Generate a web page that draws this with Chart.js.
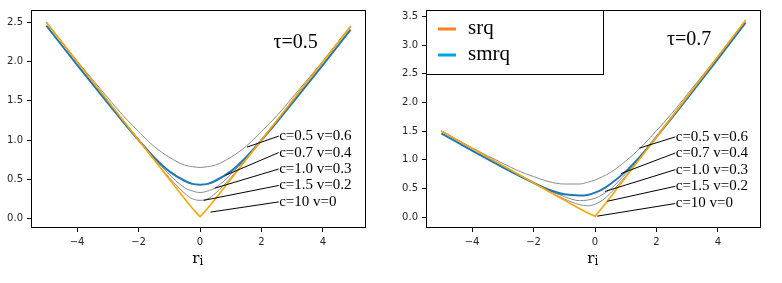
<!DOCTYPE html>
<html><head><meta charset="utf-8">
<script src="https://cdn.jsdelivr.net/npm/chart.js@4/dist/chart.umd.min.js"></script>
<style>
html,body{margin:0;padding:0;background:#fff;}
#wrap{position:relative;width:782px;height:283px;overflow:hidden;background:#fff;}
canvas{position:absolute;top:0;}
</style></head><body>
<div id="wrap">
<canvas id="c1" width="390" height="283" style="left:0px;width:390px;height:283px"></canvas>
<canvas id="c2" width="392" height="283" style="left:390px;width:392px;height:283px"></canvas>
</div>
<script>
// ---- data ----
const rValues = [-5, -4, -3, -2.5, -2, -1.5, -1, -0.5, -0.25, 0, 0.25, 0.5, 1, 1.5, 2, 2.5, 3, 4, 4.9];
const xTicks = [-4, -2, 0, 2, 4];
const yTicksLeft = [0, 0.5, 1, 1.5, 2, 2.5];
const yTicksRight = [0, 0.5, 1, 1.5, 2, 2.5, 3, 3.5];

// tau = 0.5
const srq_t05   = [2.50, 2.00, 1.50, 1.25, 1.00, 0.75, 0.50, 0.25, 0.13, 0.02, 0.13, 0.25, 0.50, 0.75, 1.00, 1.25, 1.50, 2.00, 2.45];
const c05_t05   = [2.51, 2.01, 1.54, 1.31, 1.11, 0.92, 0.78, 0.68, 0.66, 0.65, 0.66, 0.68, 0.78, 0.92, 1.11, 1.31, 1.54, 2.01, 2.46];
const smrq_t05  = [2.46, 1.96, 1.47, 1.23, 1.00, 0.78, 0.60, 0.48, 0.44, 0.43, 0.44, 0.48, 0.60, 0.78, 1.00, 1.23, 1.47, 1.96, 2.41];
const c10_t05   = [2.50, 2.00, 1.50, 1.25, 1.01, 0.77, 0.56, 0.39, 0.35, 0.33, 0.35, 0.39, 0.56, 0.77, 1.01, 1.25, 1.50, 2.00, 2.45];
const c15_t05   = [2.50, 2.00, 1.50, 1.25, 1.00, 0.75, 0.52, 0.32, 0.25, 0.23, 0.25, 0.32, 0.52, 0.75, 1.00, 1.25, 1.50, 2.00, 2.45];

// tau = 0.7
const srq_t07   = [1.50, 1.20, 0.90, 0.75, 0.60, 0.45, 0.30, 0.15, 0.08, 0.02, 0.18, 0.35, 0.70, 1.05, 1.40, 1.75, 2.10, 2.80, 3.43];
const c05_t07   = [1.51, 1.21, 0.94, 0.81, 0.71, 0.62, 0.58, 0.58, 0.61, 0.65, 0.71, 0.78, 0.98, 1.22, 1.51, 1.81, 2.14, 2.81, 3.44];
const smrq_t07  = [1.46, 1.16, 0.87, 0.73, 0.60, 0.48, 0.40, 0.38, 0.39, 0.43, 0.49, 0.58, 0.80, 1.08, 1.40, 1.73, 2.07, 2.76, 3.39];
const c10_t07   = [1.50, 1.20, 0.90, 0.75, 0.61, 0.47, 0.36, 0.29, 0.30, 0.33, 0.40, 0.49, 0.76, 1.07, 1.41, 1.75, 2.10, 2.80, 3.43];
const c15_t07   = [1.50, 1.20, 0.90, 0.75, 0.60, 0.45, 0.32, 0.22, 0.20, 0.23, 0.30, 0.42, 0.72, 1.05, 1.40, 1.75, 2.10, 2.80, 3.43];

const annotLabels = ['c=0.5 v=0.6', 'c=0.7 v=0.4', 'c=1.0 v=0.3', 'c=1.5 v=0.2', 'c=10 v=0'];
// annotation arrow start (on curve) and text anchor, in data units
const annotLeft = [
  {x0:1.53, y0:0.91, x1:2.56, y1:1.05},
  {x0:0.83, y0:0.55, x1:2.56, y1:0.84},
  {x0:0.48, y0:0.385, x1:2.56, y1:0.63},
  {x0:0.12, y0:0.23, x1:2.56, y1:0.42},
  {x0:0.34, y0:0.08, x1:2.56, y1:0.21}
];
const annotRight = [
  {x0:1.44, y0:1.205, x1:2.61, y1:1.40},
  {x0:0.84, y0:0.76, x1:2.61, y1:1.12},
  {x0:0.32, y0:0.45, x1:2.61, y1:0.83},
  {x0:0.40, y0:0.28, x1:2.61, y1:0.54},
  {x0:0.07, y0:0.02, x1:2.61, y1:0.24}
];

function pts(arr){ return rValues.map((r,i)=>({x:r, y:arr[i]})); }

function datasets(srq, c05, smrq, c10, c15){
  const gray = {borderColor:'#8a8a8a', borderWidth:1, pointRadius:0, cubicInterpolationMode:'monotone', fill:false, order:3};
  return [
    Object.assign({label:'srq', data:pts(srq), borderColor:'#ffa500', borderWidth:1.6, pointRadius:0, tension:0, fill:false, order:0}),
    Object.assign({label:'smrq', data:pts(smrq), borderColor:'#1f77b4', borderWidth:2, pointRadius:0, cubicInterpolationMode:'monotone', fill:false, order:1}),
    Object.assign({label:'c05', data:pts(c05)}, gray),
    Object.assign({label:'c10', data:pts(c10)}, gray),
    Object.assign({label:'c15', data:pts(c15)}, gray)
  ];
}

const overlay = {
  id:'overlay',
  afterDraw(chart){
    const o = chart.options.plugins.overlay;
    const {ctx, chartArea:a} = chart;
    const xs = chart.scales.x, ys = chart.scales.y;
    ctx.save();
    // frame
    ctx.strokeStyle = '#000'; ctx.lineWidth = 1;
    ctx.strokeRect(Math.round(a.left)+0.5, Math.round(a.top)+0.5, Math.round(a.right)-Math.round(a.left)-1, Math.round(a.bottom)-Math.round(a.top)-1);
    // annotations
    ctx.font = '15px "Liberation Serif", serif';
    ctx.fillStyle = '#000'; ctx.textBaseline = 'middle'; ctx.textAlign = 'left';
    o.annot.forEach((an, i)=>{
      const px0 = xs.getPixelForValue(an.x0), py0 = ys.getPixelForValue(an.y0);
      const px1 = xs.getPixelForValue(an.x1), py1 = ys.getPixelForValue(an.y1);
      ctx.beginPath(); ctx.moveTo(px0, py0); ctx.lineTo(px1, py1); ctx.stroke();
      ctx.fillText(annotLabels[i], px1 + 0.5, py1);
    });
    // tau label
    ctx.font = '20px "Liberation Serif", serif';
    ctx.textBaseline = 'middle';
    ctx.fillText(o.tauText, xs.getPixelForValue(o.tauPos[0]), ys.getPixelForValue(o.tauPos[1]));
    // x axis title r_i
    const cx = (a.left + a.right)/2;
    ctx.textBaseline = 'alphabetic';
    ctx.font = '15px "DejaVu Serif", serif';
    const wr = ctx.measureText('r').width;
    ctx.fillText('r', cx - wr + 1, 263);
    ctx.font = '12px "DejaVu Serif", serif';
    ctx.fillText('i', cx + 1, 265);
    // legend
    if (o.legend){
      const L = a.left, T = a.top;
      ctx.fillStyle = '#fff';
      ctx.fillRect(L, T, 177, 64);
      ctx.strokeStyle = '#000'; ctx.lineWidth = 1;
      ctx.strokeRect(Math.round(L)+0.5, Math.round(T)+0.5, 177, 64);
      const items = [['srq','#ff7f27'],['smrq','#00a2e8']];
      items.forEach((it, k)=>{
        const yy = T + 19 + k*26;
        ctx.strokeStyle = it[1]; ctx.lineWidth = 3;
        ctx.beginPath(); ctx.moveTo(L+12, yy); ctx.lineTo(L+30, yy); ctx.stroke();
        ctx.fillStyle = '#000';
        ctx.font = '21px "Liberation Serif", serif';
        ctx.textBaseline = 'middle';
        ctx.fillText(it[0], L+42, yy - 1);
      });
    }
    ctx.restore();
  }
};

function makeChart(id, ds, yTicks, yMin, yMax, pad, yWidth, xHeight, ov){
  const tickFont = {family:'"DejaVu Sans", sans-serif', size:10};
  return new Chart(document.getElementById(id), {
    type:'line',
    data:{datasets:ds},
    options:{
      responsive:false, animation:false, devicePixelRatio:1,
      layout:{padding:pad},
      plugins:{legend:{display:false}, tooltip:{enabled:false}, overlay:ov},
      scales:{
        x:{type:'linear', min:-5.5, max:5.4,
          afterBuildTicks:s=>{s.ticks = xTicks.map(v=>({value:v}));},
          afterFit:s=>{s.height = xHeight;},
          ticks:{font:tickFont, color:'#262626', padding:4, maxRotation:0, autoSkip:false,
            callback:v=> (v<0 ? '\u2212' + Math.abs(v) : String(v))},
          grid:{display:true, drawOnChartArea:false, drawTicks:true, tickLength:4, color:'#000', tickColor:'#000'},
          border:{display:false}},
        y:{type:'linear', min:yMin, max:yMax,
          afterBuildTicks:s=>{s.ticks = yTicks.map(v=>({value:v}));},
          afterFit:s=>{s.width = yWidth;},
          ticks:{font:tickFont, color:'#262626', padding:4, autoSkip:false,
            callback:v=> v.toFixed(1)},
          grid:{display:true, drawOnChartArea:false, drawTicks:true, tickLength:4, color:'#000', tickColor:'#000'},
          border:{display:false}}
      }
    },
    plugins:[overlay]
  });
}

makeChart('c1', datasets(srq_t05, c05_t05, smrq_t05, c10_t05, c15_t05), yTicksLeft, -0.123, 2.66,
  {left:0, right:24, top:7, bottom:0}, 31, 55,
  {annot:annotLeft, tauText:'\u03C4=0.5', tauPos:[2.39, 2.245], legend:false});
makeChart('c2', datasets(srq_t07, c05_t07, smrq_t07, c10_t07, c15_t07), yTicksRight, -0.186, 3.61,
  {left:0, right:21, top:9, bottom:0}, 36, 55,
  {annot:annotRight, tauText:'\u03C4=0.7', tauPos:[2.34, 3.10], legend:true});
</script>
</body></html>
